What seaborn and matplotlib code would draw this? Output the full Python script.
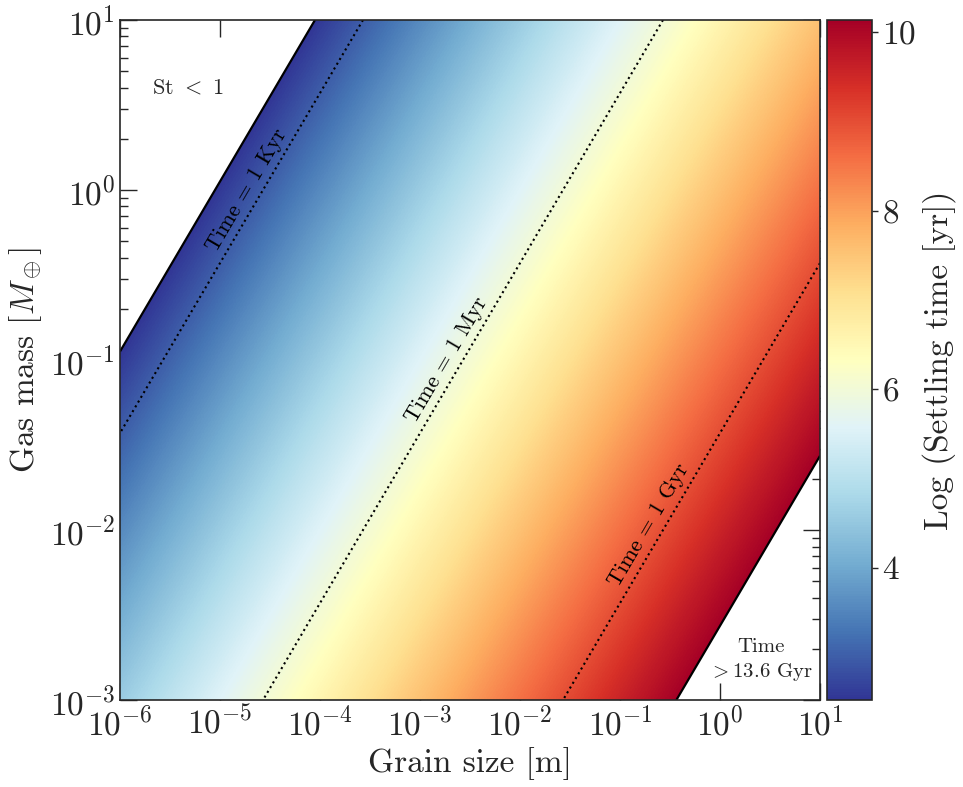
import numpy as np
import matplotlib
matplotlib.use('Agg')
import matplotlib.pyplot as plt
from matplotlib.ticker import NullLocator, LogLocator
import seaborn as sns

# axis ranges
grain_lim = [1e-6, 1e1]      # m
mass_lim = [1e-3, 1e1]       # Earth masses

# settling time model: log t = t_norm + log a - log M
t_norm = 7.57
t_min = 2.52                     # St = 1 boundary (lowest time shown)
t_age = np.log10(13.6e9)         # age of the universe

contour_levels = [3, 6, 9]
contour_labels = ['Time = 1 Kyr', 'Time = 1 Myr', 'Time = 1 Gyr']
label_pos = [(10**-4.73, 1.0), (10**-2.73, 0.1), (10**-0.71, 10**-1.97)]
cbar_ticks = [4, 6, 8, 10]

sns.set_style('ticks')
plt.rcParams['font.family'] = ['cmr10']
plt.rcParams['mathtext.fontset'] = 'cm'
plt.rcParams['axes.formatter.use_mathtext'] = True
plt.rcParams['axes.unicode_minus'] = False

la = np.linspace(np.log10(grain_lim[0]), np.log10(grain_lim[1]), 900)
lm = np.linspace(np.log10(mass_lim[0]), np.log10(mass_lim[1]), 900)
LA, LM = np.meshgrid(la, lm)
logt = t_norm + LA - LM
masked = np.ma.masked_where((logt < t_min) | (logt > t_age), logt)

cmap = sns.color_palette('RdYlBu_r', as_cmap=True)

fig = plt.figure(figsize=(9.63, 7.87), dpi=100)
ax = fig.add_axes([0.1246, 0.1105, 0.7269, 0.8641])
cax = fig.add_axes([0.8588, 0.1105, 0.0467, 0.8641])

mesh = ax.pcolormesh(10**LA, 10**LM, masked, cmap=cmap, vmin=t_min, vmax=t_age,
                     shading='auto', rasterized=True)
ax.contour(10**LA, 10**LM, logt, levels=contour_levels, colors='black',
           linestyles='dotted', linewidths=1.5)
ax.contour(10**LA, 10**LM, logt, levels=[t_min, t_age], colors='black',
           linestyles='solid', linewidths=1.6)

ax.set_xscale('log')
ax.set_yscale('log')
ax.set_xlim(grain_lim)
ax.set_ylim(mass_lim)

rot = np.degrees(np.arctan(170 / 100))
for (x, y), txt in zip(label_pos, contour_labels):
    ax.text(x, y, txt, rotation=rot, rotation_mode='anchor', ha='center',
            va='center', fontsize=16, color='black')

ax.text(10**-5.32, 10**0.6, 'St $<$ 1', ha='center', va='center', fontsize=16)
ax.text(10**0.41, 10**-2.77, 'Time\n$>$13.6 Gyr', ha='center', va='center',
        multialignment='center', fontsize=15, linespacing=1.3)

ax.set_xlabel('Grain size [m]', fontsize=24)
ax.set_ylabel(r'Gas mass [$M_\oplus$]', fontsize=24)
ax.xaxis.set_minor_locator(NullLocator())
ax.yaxis.set_major_locator(LogLocator(base=10, numticks=10))
ax.yaxis.set_minor_locator(LogLocator(base=10, subs=np.arange(2, 10), numticks=20))
ax.tick_params(which='both', direction='in', top=True, right=True, labelsize=24)
ax.tick_params(which='major', length=12, width=1)
ax.tick_params(which='minor', length=6, width=1)
ax.tick_params(axis='x', pad=4)
for s in ax.spines.values():
    s.set_linewidth(1.2)

cb = fig.colorbar(mesh, cax=cax)
cb.set_ticks(cbar_ticks)
cb.ax.tick_params(labelsize=24, length=4, width=1, direction='out')
cb.ax.minorticks_off()
cb.outline.set_linewidth(1.2)
cb.set_label('Log (Settling time [yr])', fontsize=24, labelpad=4)

fig.savefig('out.png', dpi=100)
